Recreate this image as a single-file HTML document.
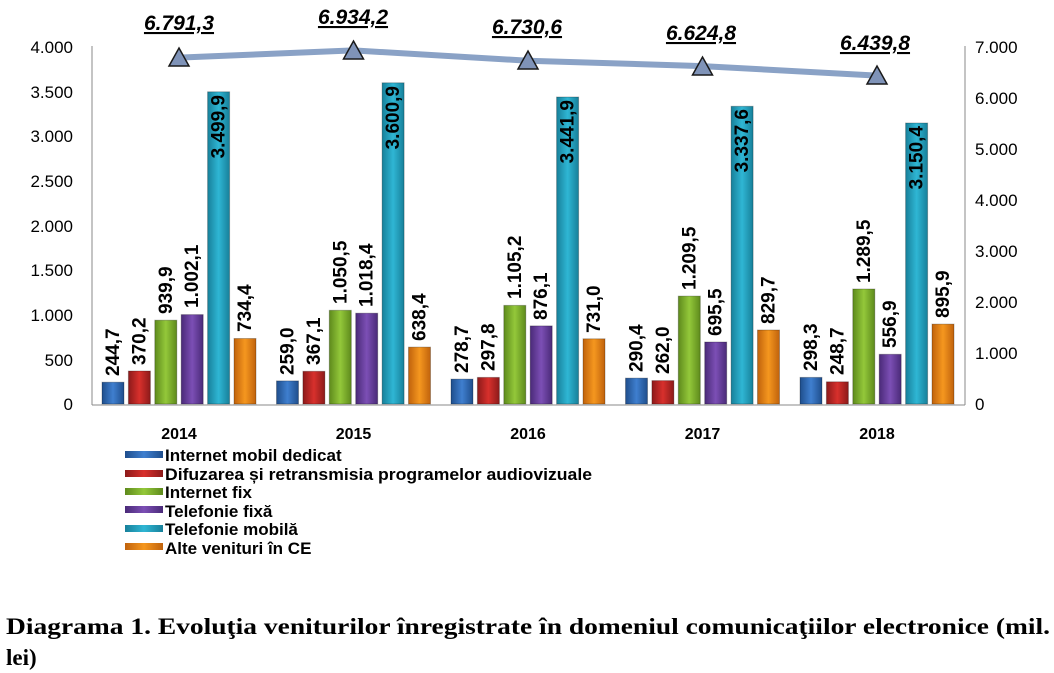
<!DOCTYPE html>
<html><head><meta charset="utf-8"><style>
body{margin:0;background:#fff;width:1054px;height:673px;overflow:hidden}
svg{display:block}
.ax{font:17px "Liberation Sans",sans-serif;fill:#000}
.lb{font:bold 19px "Liberation Sans",sans-serif;fill:#000}
.yr{font:bold 16px "Liberation Sans",sans-serif;fill:#000}
.tl{font:bold italic 21px "Liberation Sans",sans-serif;fill:#000;text-decoration:underline}
.lg{font:bold 17px "Liberation Sans",sans-serif;fill:#000}
.cap{font:bold 23px "Liberation Serif",serif;fill:#000}
</style></head><body>
<svg width="1054" height="673" xmlns="http://www.w3.org/2000/svg">
<defs>
<linearGradient id="b" x1="0" x2="1"><stop offset="0" stop-color="#1f4e8c"/><stop offset=".5" stop-color="#3f7fcf"/><stop offset="1" stop-color="#1f4e8c"/></linearGradient>
<linearGradient id="r" x1="0" x2="1"><stop offset="0" stop-color="#8c1a1a"/><stop offset=".5" stop-color="#d8302c"/><stop offset="1" stop-color="#8c1a1a"/></linearGradient>
<linearGradient id="g" x1="0" x2="1"><stop offset="0" stop-color="#5e8a1c"/><stop offset=".5" stop-color="#93c83a"/><stop offset="1" stop-color="#5e8a1c"/></linearGradient>
<linearGradient id="p" x1="0" x2="1"><stop offset="0" stop-color="#4a2a78"/><stop offset=".5" stop-color="#7c4fb5"/><stop offset="1" stop-color="#4a2a78"/></linearGradient>
<linearGradient id="c" x1="0" x2="1"><stop offset="0" stop-color="#17809a"/><stop offset=".5" stop-color="#2fb6d4"/><stop offset="1" stop-color="#17809a"/></linearGradient>
<linearGradient id="o" x1="0" x2="1"><stop offset="0" stop-color="#c0620c"/><stop offset=".5" stop-color="#f5971f"/><stop offset="1" stop-color="#c0620c"/></linearGradient>
</defs>
<line x1="92" y1="46" x2="92" y2="405" stroke="#888"/>
<line x1="965" y1="46" x2="965" y2="405" stroke="#888"/>
<line x1="92" y1="405" x2="965" y2="405" stroke="#888"/>
<g class="ax" text-anchor="end">
<text x="73" y="53">4.000</text><text x="73" y="98">3.500</text><text x="73" y="142">3.000</text><text x="73" y="187">2.500</text><text x="73" y="232">2.000</text><text x="73" y="276">1.500</text><text x="73" y="321">1.000</text><text x="73" y="366">500</text><text x="73" y="410">0</text>
</g>
<g class="ax">
<text x="975" y="53">7.000</text><text x="975" y="104">6.000</text><text x="975" y="155">5.000</text><text x="975" y="206">4.000</text><text x="975" y="257">3.000</text><text x="975" y="308">2.000</text><text x="975" y="359">1.000</text><text x="975" y="410">0</text>
</g>
<g stroke="rgba(0,0,0,.25)" stroke-width="1">
<rect x="102" y="382.2" width="22" height="21.8" fill="url(#b)"/><rect x="128.4" y="371" width="22" height="33" fill="url(#r)"/><rect x="154.8" y="320.2" width="22" height="83.8" fill="url(#g)"/><rect x="181.2" y="314.6" width="22" height="89.4" fill="url(#p)"/><rect x="207.6" y="91.8" width="22" height="312.2" fill="url(#c)"/><rect x="234" y="338.5" width="22" height="65.5" fill="url(#o)"/>
<rect x="276.5" y="380.9" width="22" height="23.1" fill="url(#b)"/><rect x="302.9" y="371.3" width="22" height="32.7" fill="url(#r)"/><rect x="329.3" y="310.3" width="22" height="93.7" fill="url(#g)"/><rect x="355.7" y="313.2" width="22" height="90.8" fill="url(#p)"/><rect x="382.1" y="82.8" width="22" height="321.2" fill="url(#c)"/><rect x="408.5" y="347.1" width="22" height="56.9" fill="url(#o)"/>
<rect x="451" y="379.1" width="22" height="24.9" fill="url(#b)"/><rect x="477.4" y="377.4" width="22" height="26.6" fill="url(#r)"/><rect x="503.8" y="305.4" width="22" height="98.6" fill="url(#g)"/><rect x="530.2" y="325.9" width="22" height="78.1" fill="url(#p)"/><rect x="556.6" y="97" width="22" height="307" fill="url(#c)"/><rect x="583" y="338.8" width="22" height="65.2" fill="url(#o)"/>
<rect x="625.5" y="378.1" width="22" height="25.9" fill="url(#b)"/><rect x="651.9" y="380.6" width="22" height="23.4" fill="url(#r)"/><rect x="678.3" y="296.1" width="22" height="107.9" fill="url(#g)"/><rect x="704.7" y="342" width="22" height="62" fill="url(#p)"/><rect x="731.1" y="106.3" width="22" height="297.7" fill="url(#c)"/><rect x="757.5" y="330" width="22" height="74" fill="url(#o)"/>
<rect x="800" y="377.4" width="22" height="26.6" fill="url(#b)"/><rect x="826.4" y="381.8" width="22" height="22.2" fill="url(#r)"/><rect x="852.8" y="289" width="22" height="115" fill="url(#g)"/><rect x="879.2" y="354.3" width="22" height="49.7" fill="url(#p)"/><rect x="905.6" y="123" width="22" height="281" fill="url(#c)"/><rect x="932" y="324.1" width="22" height="79.9" fill="url(#o)"/>
</g>
<g class="lb">
<text transform="translate(119,376) rotate(-90)">244,7</text><text transform="translate(145.4,365) rotate(-90)">370,2</text><text transform="translate(171.8,314) rotate(-90)">939,9</text><text transform="translate(198.2,308) rotate(-90)">1.002,1</text><text transform="translate(224.6,95) rotate(-90)" text-anchor="end">3.499,9</text><text transform="translate(251,332) rotate(-90)">734,4</text>
<text transform="translate(293.5,375) rotate(-90)">259,0</text><text transform="translate(319.9,365) rotate(-90)">367,1</text><text transform="translate(346.3,304) rotate(-90)">1.050,5</text><text transform="translate(372.7,307) rotate(-90)">1.018,4</text><text transform="translate(399.1,86) rotate(-90)" text-anchor="end">3.600,9</text><text transform="translate(425.5,341) rotate(-90)">638,4</text>
<text transform="translate(468,373) rotate(-90)">278,7</text><text transform="translate(494.4,371) rotate(-90)">297,8</text><text transform="translate(520.8,299) rotate(-90)">1.105,2</text><text transform="translate(547.2,320) rotate(-90)">876,1</text><text transform="translate(573.6,100) rotate(-90)" text-anchor="end">3.441,9</text><text transform="translate(600,333) rotate(-90)">731,0</text>
<text transform="translate(642.5,372) rotate(-90)">290,4</text><text transform="translate(668.9,374) rotate(-90)">262,0</text><text transform="translate(695.3,290) rotate(-90)">1.209,5</text><text transform="translate(721.7,336) rotate(-90)">695,5</text><text transform="translate(748.1,109) rotate(-90)" text-anchor="end">3.337,6</text><text transform="translate(774.5,324) rotate(-90)">829,7</text>
<text transform="translate(817,371) rotate(-90)">298,3</text><text transform="translate(843.4,375) rotate(-90)">248,7</text><text transform="translate(869.8,283) rotate(-90)">1.289,5</text><text transform="translate(896.2,348) rotate(-90)">556,9</text><text transform="translate(922.6,126) rotate(-90)" text-anchor="end">3.150,4</text><text transform="translate(949,318) rotate(-90)">895,9</text>
</g>
<polyline points="179,57.6 353.5,50.4 528,60.7 702.5,66.1 877,75.6" fill="none" stroke="#8aa2c6" stroke-width="6"/>
<g fill="#7f93b8" stroke="#1a1a1a" stroke-width="1.5">
<path d="M179,48 L189,66 L169,66Z"/><path d="M353.5,41 L363.5,59 L343.5,59Z"/><path d="M528,51 L538,69 L518,69Z"/><path d="M702.5,57 L712.5,75 L692.5,75Z"/><path d="M877,66 L887,84 L867,84Z"/>
</g>
<g class="tl" text-anchor="middle">
<text x="179" y="30">6.791,3</text><text x="353" y="24">6.934,2</text><text x="527" y="34">6.730,6</text><text x="701" y="40">6.624,8</text><text x="875" y="50">6.439,8</text>
</g>
<g class="yr" text-anchor="middle">
<text x="179" y="439">2014</text><text x="353.5" y="439">2015</text><text x="528" y="439">2016</text><text x="702.5" y="439">2017</text><text x="877" y="439">2018</text>
</g>
<rect x="125" y="451" width="38" height="7" fill="url(#b)"/><rect x="125" y="470" width="38" height="7" fill="url(#r)"/><rect x="125" y="488" width="38" height="7" fill="url(#g)"/><rect x="125" y="506" width="38" height="7" fill="url(#p)"/><rect x="125" y="525" width="38" height="7" fill="url(#c)"/><rect x="125" y="543" width="38" height="7" fill="url(#o)"/>
<g class="lg">
<text x="165" y="461">Internet mobil dedicat</text>
<text x="165" y="480" textLength="427" lengthAdjust="spacingAndGlyphs">Difuzarea și retransmisia programelor audiovizuale</text>
<text x="165" y="498">Internet fix</text>
<text x="165" y="517">Telefonie fixă</text>
<text x="165" y="535">Telefonie mobilă</text>
<text x="165" y="554">Alte venituri în CE</text>
</g>
<text class="cap" x="6" y="634" textLength="1044" lengthAdjust="spacingAndGlyphs">Diagrama 1. Evoluţia veniturilor înregistrate în domeniul comunicaţiilor electronice (mil.</text>
<text class="cap" x="6" y="665">lei)</text>
</svg>
</body></html>
